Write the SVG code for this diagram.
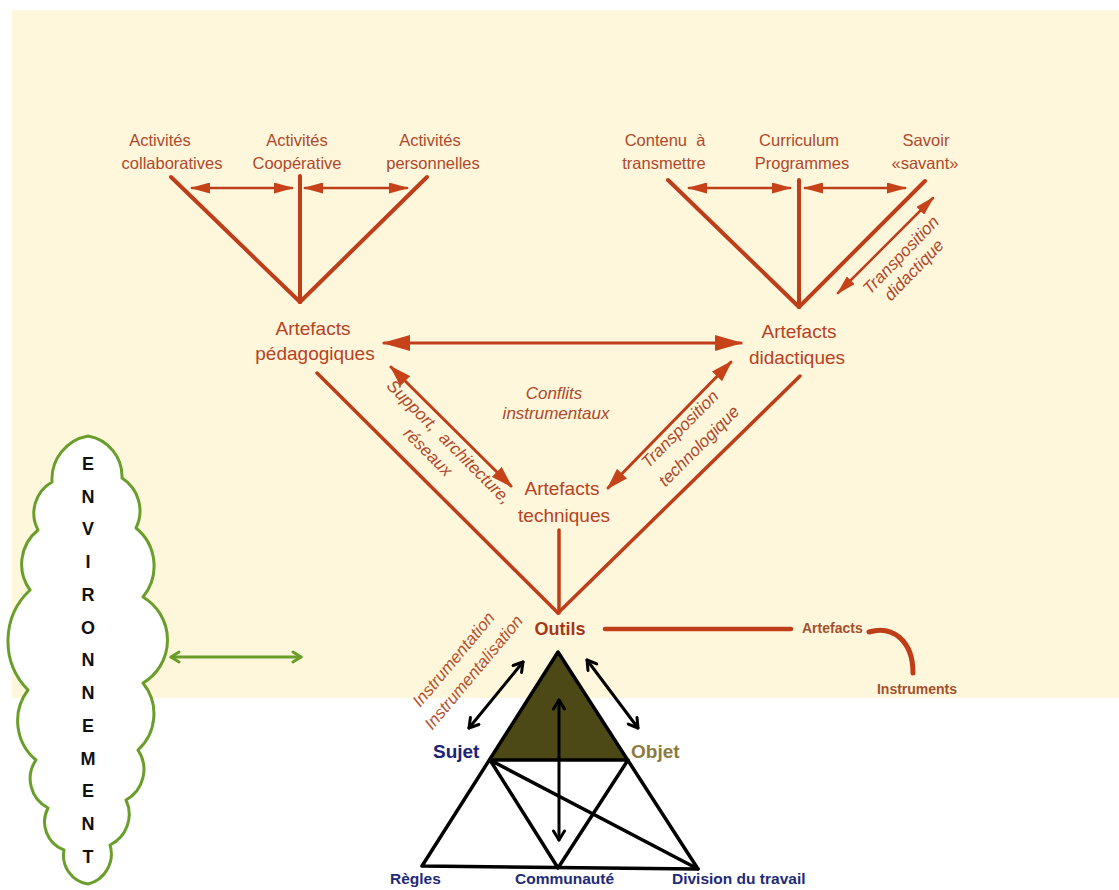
<svg xmlns="http://www.w3.org/2000/svg" width="1119" height="890" viewBox="0 0 1119 890">
  <style>
    .lbl{font-family:"Liberation Sans",Arial,sans-serif;text-anchor:middle}
    .act{font-size:16.5px;fill:#B1482A}
    .art{font-size:19px;fill:#B9411F}
    .it{font-family:"Liberation Sans",Arial,sans-serif;font-style:italic;font-size:17px;fill:#B0482A;text-anchor:middle}
    .red{stroke:#BE3E1A;fill:none;stroke-linecap:round}
    .blk{stroke:#000;fill:none;stroke-linecap:round;stroke-linejoin:round}
    .navy{font-family:"Liberation Sans",Arial,sans-serif;font-weight:bold;font-size:15.5px;fill:#1E2A78}
    .env{font-family:"Liberation Sans",Arial,sans-serif;font-weight:bold;font-size:18px;fill:#111;text-anchor:middle}
  </style>
  <defs>
    <marker id="hb" markerUnits="userSpaceOnUse" viewBox="0 0 28 16" refX="26" refY="8" markerWidth="28" markerHeight="16" orient="auto-start-reverse">
      <path d="M0,0 L28,8 L0,16 z" fill="#C6431A"/>
    </marker>
    <marker id="hm" markerUnits="userSpaceOnUse" viewBox="0 0 22 14" refX="20" refY="7" markerWidth="22" markerHeight="14" orient="auto-start-reverse">
      <path d="M0,0 L22,7 L0,14 z" fill="#C6431A"/>
    </marker>
    <marker id="hs" markerUnits="userSpaceOnUse" viewBox="0 0 20 11" refX="18" refY="5.5" markerWidth="20" markerHeight="11" orient="auto-start-reverse">
      <path d="M0,0 L20,5.5 L0,11 z" fill="#C6431A"/>
    </marker>
    <marker id="hk" markerUnits="userSpaceOnUse" viewBox="0 0 14 14" refX="12" refY="7" markerWidth="14" markerHeight="14" orient="auto-start-reverse">
      <path d="M3,1.5 L12,7 L3,12.5" fill="none" stroke="#000" stroke-width="3" stroke-linecap="round" stroke-linejoin="round"/>
    </marker>
    <marker id="hg" markerUnits="userSpaceOnUse" viewBox="0 0 14 14" refX="12" refY="7" markerWidth="14" markerHeight="14" orient="auto-start-reverse">
      <path d="M4,2 L12,7 L4,12" fill="none" stroke="#6A9E2B" stroke-width="3" stroke-linecap="round" stroke-linejoin="round"/>
    </marker>
  </defs>

  <!-- background -->
  <rect width="1119" height="890" fill="#FFFFFF"/>
  <rect x="12" y="10" width="1107" height="688" fill="#FEF7DC"/>

  <!-- connectors -->
  <g id="connectors">
    <!-- pedagogical fan -->
    <line class="red" stroke-width="4" x1="171" y1="177" x2="300" y2="302"/>
    <line class="red" stroke-width="4" x1="300" y1="176" x2="300" y2="302"/>
    <line class="red" stroke-width="4" x1="427" y1="177" x2="300" y2="302"/>
    <line class="red" stroke-width="2.5" x1="192" y1="188" x2="292" y2="188" marker-start="url(#hs)" marker-end="url(#hs)"/>
    <line class="red" stroke-width="2.5" x1="305" y1="188" x2="407" y2="188" marker-start="url(#hs)" marker-end="url(#hs)"/>

    <!-- didactic fan -->
    <line class="red" stroke-width="4" x1="668" y1="180" x2="799" y2="307"/>
    <line class="red" stroke-width="4" x1="799" y1="180" x2="799" y2="307"/>
    <line class="red" stroke-width="4" x1="925" y1="181" x2="799" y2="307"/>
    <line class="red" stroke-width="2.5" x1="689" y1="188" x2="790" y2="188" marker-start="url(#hs)" marker-end="url(#hs)"/>
    <line class="red" stroke-width="2.5" x1="805" y1="188" x2="905" y2="188" marker-start="url(#hs)" marker-end="url(#hs)"/>
    <line class="red" stroke-width="2.5" x1="933" y1="198" x2="838" y2="293" marker-start="url(#hs)" marker-end="url(#hs)"/>
    <text class="it" transform="translate(905,259) rotate(-46)">Transposition</text>
    <text class="it" transform="translate(918,274) rotate(-46)">didactique</text>

    <!-- links between the three artefact families -->
    <line class="red" stroke-width="3" x1="384" y1="343" x2="741" y2="343" marker-start="url(#hb)" marker-end="url(#hb)"/>
    <line class="red" stroke-width="3" x1="391" y1="367" x2="511" y2="486" marker-start="url(#hm)" marker-end="url(#hm)"/>
    <line class="red" stroke-width="3" x1="731" y1="362" x2="608" y2="488" marker-start="url(#hm)" marker-end="url(#hm)"/>
    <text class="it" xml:space="preserve" transform="translate(445,446) rotate(45)">Support,  architecture,</text>
    <text class="it" transform="translate(424,456) rotate(45)">réseaux</text>
    <text class="it" transform="translate(684,433) rotate(-45)">Transposition</text>
    <text class="it" transform="translate(703,450) rotate(-45)">technologique</text>
    <text class="it" x="554" y="399">Conflits</text>
    <text class="it" x="556" y="419">instrumentaux</text>

    <!-- convergence towards the tools -->
    <line class="red" stroke-width="3.5" x1="317" y1="373" x2="558" y2="613"/>
    <line class="red" stroke-width="3.5" x1="800" y1="376" x2="558" y2="613"/>
    <line class="red" stroke-width="3.5" x1="559" y1="530" x2="559" y2="613"/>

    <!-- tools -> artefacts -> instruments -->
    <line class="red" stroke-width="4.5" x1="605" y1="629" x2="791" y2="629"/>
    <path class="red" stroke-width="5" d="M869,632 C892,625 913,640 913,673"/>

    <!-- instrumentation arrows -->
    <line class="blk" stroke-width="3" x1="523" y1="662" x2="469" y2="728" marker-start="url(#hk)" marker-end="url(#hk)"/>
    <line class="blk" stroke-width="3" x1="587" y1="660" x2="638" y2="728" marker-start="url(#hk)" marker-end="url(#hk)"/>
    <text class="it" transform="translate(458,663) rotate(-50)" style="fill:#B5532F">Instrumentation</text>
    <text class="it" transform="translate(478,676) rotate(-50)" style="fill:#B5532F">Instrumentalisation</text>

    <!-- environment link -->
    <line stroke="#6A9E2B" stroke-width="3" stroke-linecap="round" x1="171" y1="657" x2="301" y2="657" marker-start="url(#hg)" marker-end="url(#hg)"/>
  </g>

  <!-- pedagogical activities -->
  <g id="act-collab"><text class="lbl act" x="160" y="146">Activités</text><text class="lbl act" x="172" y="169">collaboratives</text></g>
  <g id="act-coop"><text class="lbl act" x="297" y="146">Activités</text><text class="lbl act" x="297" y="169">Coopérative</text></g>
  <g id="act-perso"><text class="lbl act" x="430" y="146">Activités</text><text class="lbl act" x="433" y="169">personnelles</text></g>

  <!-- didactic sources -->
  <g id="contenu"><text class="lbl act" x="665" y="146" xml:space="preserve">Contenu  à</text><text class="lbl act" x="664" y="169">transmettre</text></g>
  <g id="curriculum"><text class="lbl act" x="799" y="146">Curriculum</text><text class="lbl act" x="802" y="169">Programmes</text></g>
  <g id="savoir"><text class="lbl act" x="926" y="146">Savoir</text><text class="lbl act" x="925" y="169">«savant»</text></g>

  <!-- artefact families -->
  <g id="art-peda"><text class="lbl art" x="313" y="335">Artefacts</text><text class="lbl art" x="315" y="360">pédagogiques</text></g>
  <g id="art-didac"><text class="lbl art" x="799" y="338">Artefacts</text><text class="lbl art" x="797" y="364">didactiques</text></g>
  <g id="art-tech"><text class="lbl art" x="562" y="495">Artefacts</text><text class="lbl art" x="564" y="522">techniques</text></g>

  <!-- tools -->
  <g id="outils"><text class="lbl" x="560" y="635" style="font-size:18px;font-weight:bold;fill:#A5381B">Outils</text></g>
  <g id="artefacts"><text class="lbl" x="802" y="633" style="font-size:14px;font-weight:bold;fill:#A4502F;text-anchor:start">Artefacts</text></g>
  <g id="instruments"><text class="lbl" x="917" y="694" style="font-size:14px;font-weight:bold;fill:#A4502F">Instruments</text></g>

  <!-- activity triangle -->
  <g id="triangle">
    <path d="M558,652 L490,760 L628,760 Z" fill="#4D4917"/>
    <path class="blk" stroke-width="3.5" d="M558,652 L422,866 L698,869 Z"/>
    <path class="blk" stroke-width="3.5" d="M490,760 L628,760 M490,760 L558,868 L628,760 M490,760 L698,869"/>
    <line class="blk" stroke-width="3" x1="559" y1="700" x2="559" y2="840" marker-start="url(#hk)" marker-end="url(#hk)"/>
  </g>
  <g id="sujet"><text x="433" y="758" style="font-family:'Liberation Sans',Arial,sans-serif;font-weight:bold;font-size:19px;fill:#1C2278">Sujet</text></g>
  <g id="objet"><text x="631" y="758" style="font-family:'Liberation Sans',Arial,sans-serif;font-weight:bold;font-size:19px;fill:#8C7A3E">Objet</text></g>
  <g id="regles"><text class="navy" x="390" y="884">Règles</text></g>
  <g id="communaute"><text class="navy" x="515" y="884">Communauté</text></g>
  <g id="division"><text class="navy" x="672" y="884">Division du travail</text></g>

  <!-- environment cloud -->
  <g id="environnement">
    <path fill="#FFFFFF" stroke="#6A9E2B" stroke-width="3" stroke-linejoin="round"
      d="M88,436 A41,41 0 0 1 122,478 A39,39 0 0 1 136,528 A49,49 0 0 1 143,597 A50,50 0 0 1 143,683 A49,49 0 0 1 138,750 A35,35 0 0 1 126,800 A34,34 0 0 1 110,845 A31,31 0 0 1 88,884 A29,29 0 0 1 64,850 A30,30 0 0 1 48,808 A33,33 0 0 1 36,760 A51,51 0 0 1 28,690 A70,70 0 0 1 30,590 A44,44 0 0 1 38,530 A36,36 0 0 1 52,482 A44,44 0 0 1 88,436 Z"/>
    <text class="env" x="88" y="470">E</text>
    <text class="env" x="88" y="503">N</text>
    <text class="env" x="88" y="535">V</text>
    <text class="env" x="88" y="568">I</text>
    <text class="env" x="88" y="601">R</text>
    <text class="env" x="88" y="634">O</text>
    <text class="env" x="88" y="666">N</text>
    <text class="env" x="88" y="699">N</text>
    <text class="env" x="88" y="732">E</text>
    <text class="env" x="88" y="765">M</text>
    <text class="env" x="88" y="797">E</text>
    <text class="env" x="88" y="830">N</text>
    <text class="env" x="88" y="863">T</text>
  </g>
</svg>
